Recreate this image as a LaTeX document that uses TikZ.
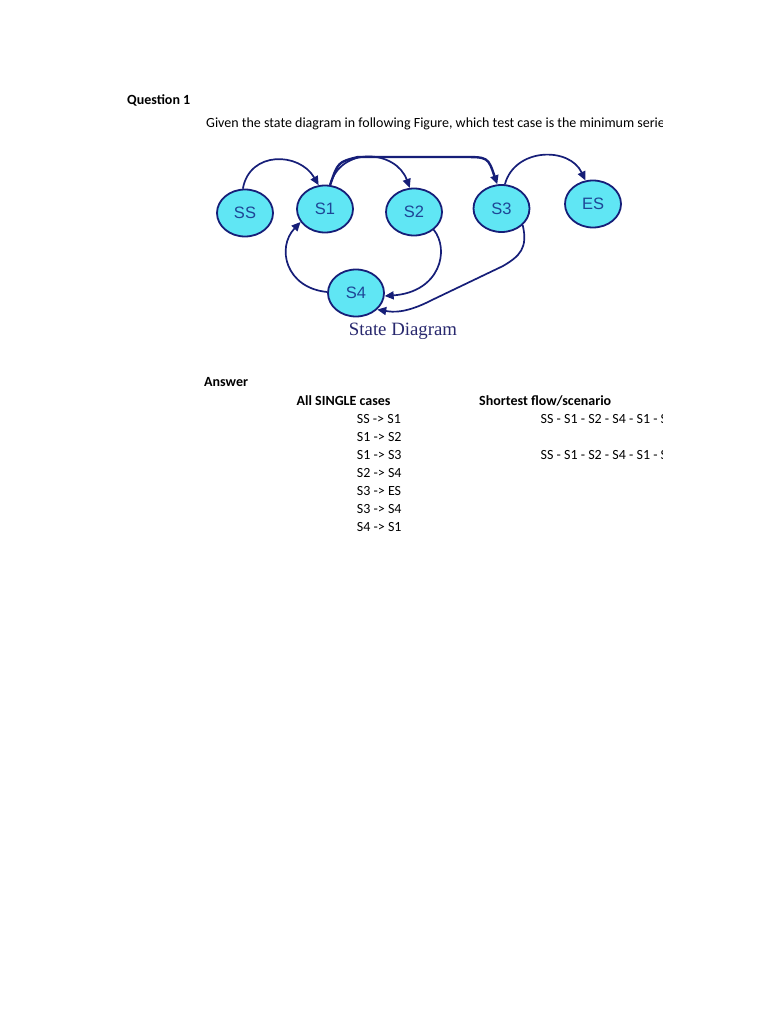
\documentclass[tikz,border=0pt]{standalone}
\usepackage{fontspec}
\setmainfont{Carlito}
\newfontfamily\arialf{Liberation Sans}
\newfontfamily\timesf{Liberation Serif}
\usetikzlibrary{shapes.geometric,arrows.meta}
\definecolor{nodefill}{RGB}{96,230,244}
\definecolor{navy}{RGB}{22,30,120}
\definecolor{labblue}{RGB}{30,70,150}
\definecolor{capnavy}{RGB}{40,40,110}
\begin{document}
\begin{tikzpicture}[x=1pt,y=-1pt,
  state/.style={ellipse,draw=navy,line width=1.8pt,fill=nodefill,minimum width=56pt,minimum height=47pt,inner sep=0pt,font=\arialf\fontsize{16.5}{18}\selectfont,text=labblue},
  edge/.style={draw=navy,line width=1.7pt,-{Triangle[length=9pt,width=8pt]}},
  txt/.style={anchor=base west,inner sep=0pt,font=\fontsize{14}{16}\selectfont,text=black},
  btxt/.style={txt,font=\bfseries\fontsize{14}{16}\selectfont}]
\useasboundingbox[fill=white] (0,0) rectangle (768,1024);
% header
\node[btxt] (q1) at (127,104.7) {Question 1};
\begin{scope}
\clip (200,100) rectangle (662,140);
\node[txt] (given) at (206,128) {Given the state diagram in following Figure, which test case is the minimum series of valid transitions to cover every state?};
\end{scope}
% states
\node[state] (SS) at (245,213) {SS};
\node[state] (S1) at (325,209) {S1};
\node[state] (S2) at (414,212) {S2};
\node[state] (S3) at (501.5,208.5) {S3};
\node[state] (ES) at (593,204) {ES};
\node[state] (S4) at (356,293) {S4};
% edges
\draw[edge] (SS.95) to[out=80,in=120,looseness=1.3] (S1.105);
\draw[edge] (S1.78) to[out=75,in=110,looseness=1.3] (S2.100);
\coordinate (ha) at (358,157);
\coordinate (hb) at (462,157);
\draw[edge,line width=2.4pt] (S1.78) .. controls (338,162) .. (ha) -- (hb) .. controls (488,157) .. (S3.100);
\draw[edge] (S3.82) to[out=75,in=115,looseness=1.2] (ES.108);
\draw[edge] (S2.-42) .. controls (450,250) and (440,292) .. (S4.-6);
\coordinate (ra) at (503,266);
\coordinate (rb) at (432,300);
\draw[edge] (S3.-38) .. controls (528,248) and (520,256) .. (ra) -- (rb) .. controls (405,314) and (392,312) .. (S4.-38);
\draw[edge] (S4.178) .. controls (286,288) and (276,248) .. (S1.208);
\node[font=\timesf\fontsize{18.8}{20}\selectfont,text=capnavy] (cap) at (403,331) {State Diagram};
% answer section
\node[btxt] (ans) at (204,386) {Answer};
\node[btxt] (h1) at (296.5,405) {All SINGLE cases};
\node[btxt] (h2) at (479,405) {Shortest flow/scenario};
\foreach \t [count=\i from 0] in {SS -> S1,S1 -> S2,S1 -> S3,S2 -> S4,S3 -> ES,S3 -> S4,S4 -> S1}{
  \node[txt] (c\i) at (356.7,423.2+18.1*\i) {\t};
}
\begin{scope}
\clip (530,400) rectangle (662.5,470);
\node[txt] (p1) at (540.5,423.2) {SS - S1 - S2 - S4 - S1 - S3 - ES};
\node[txt] (p2) at (540.5,459.4) {SS - S1 - S2 - S4 - S1 - S3 - S4};
\end{scope}
\end{tikzpicture}
\end{document}
